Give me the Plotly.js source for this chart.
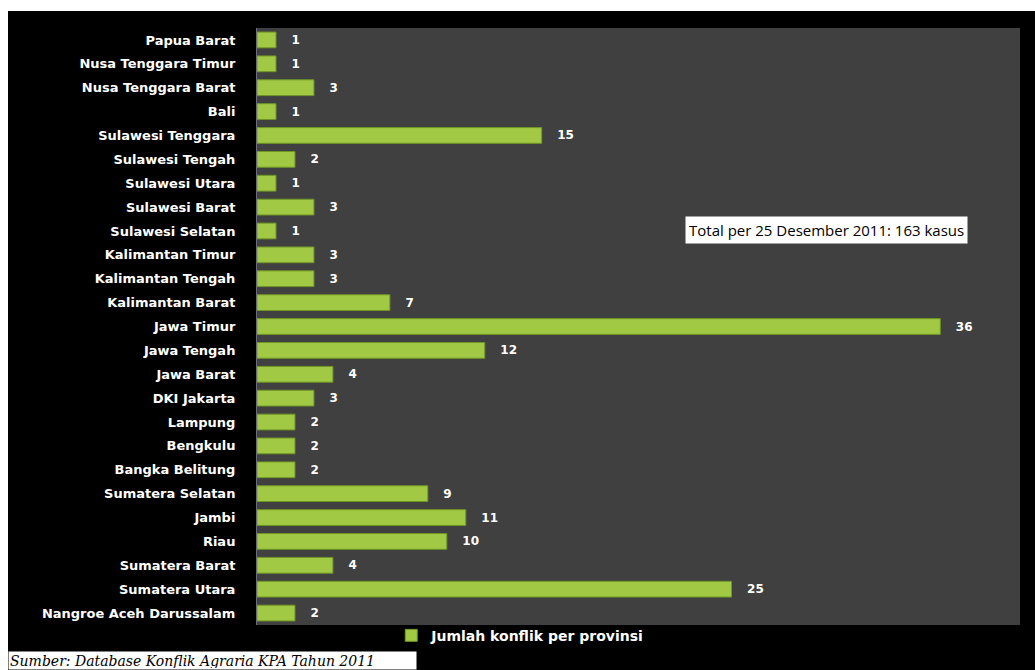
<!DOCTYPE html>
<html>
<head>
<meta charset="utf-8">
<script src="https://cdn.plot.ly/plotly-3.0.1.min.js"></script>
<style>
  html, body { margin: 0; padding: 0; background: #ffffff; width: 1035px; height: 670px; overflow: hidden; }
  #chart { position: absolute; left: 8px; top: 11px; width: 1027px; height: 659px; }
</style>
</head>
<body>
<div id="chart"></div>
<script>
const provinces = [
  "Papua Barat", "Nusa Tenggara Timur", "Nusa Tenggara Barat", "Bali",
  "Sulawesi Tenggara", "Sulawesi Tengah", "Sulawesi Utara", "Sulawesi Barat",
  "Sulawesi Selatan", "Kalimantan Timur", "Kalimantan Tengah", "Kalimantan Barat",
  "Jawa Timur", "Jawa Tengah", "Jawa Barat", "DKI Jakarta", "Lampung", "Bengkulu",
  "Bangka Belitung", "Sumatera Selatan", "Jambi", "Riau", "Sumatera Barat",
  "Sumatera Utara", "Nangroe Aceh Darussalam"
];
const conflicts = [1, 1, 3, 1, 15, 2, 1, 3, 1, 3, 3, 7, 36, 12, 4, 3, 2, 2, 2, 9, 11, 10, 4, 25, 2];
const seriesName = "Jumlah konflik per provinsi";
const totalNote = "Total per 25 Desember 2011: 163 kasus";
const sourceNote = "Sumber: Database Konflik Agraria KPA Tahun 2011";

const nb = "\u00a0\u00a0\u00a0";
const trace = {
  type: "bar",
  orientation: "h",
  y: provinces,
  x: conflicts,
  name: seriesName,
  text: conflicts.map(v => nb + v),
  textposition: "outside",
  cliponaxis: false,
  textfont: { family: "DejaVu Sans", size: 12, color: "#ffffff", weight: "bold" },
  marker: { color: "#a2c943", line: { color: "#6f9624", width: 1 } },
  hoverinfo: "x+y"
};

const layout = {
  width: 1027, height: 659,
  paper_bgcolor: "#000000",
  plot_bgcolor: "#404040",
  margin: { l: 249, r: 15, t: 17, b: 45 },
  bargap: 0.34,
  showlegend: true,
  legend: {
    orientation: "h", x: 0.345, xanchor: "center", y: -0.018, yanchor: "middle",
    font: { family: "DejaVu Sans", size: 14, color: "#ffffff", weight: "bold" },
    bgcolor: "rgba(0,0,0,0)"
  },
  xaxis: { range: [0, 40.2], visible: false, fixedrange: true },
  yaxis: {
    autorange: "reversed",
    showline: true, linecolor: "#6c6c80", linewidth: 1,
    ticks: "", ticklabelstandoff: 18,
    tickfont: { family: "DejaVu Sans", size: 13, color: "#ffffff", weight: "bold" },
    showgrid: false, fixedrange: true
  },
  annotations: [
    {
      xref: "paper", yref: "paper", x: 0.747, y: 0.662, xanchor: "center", yanchor: "middle",
      text: totalNote, showarrow: false, bgcolor: "#ffffff", borderpad: 3,
      font: { family: "Open Sans", size: 15, color: "#000000" }
    },
    {
      xref: "paper", yref: "paper", x: -0.3264, y: -0.0754, xanchor: "left", yanchor: "bottom",
      text: "<i>" + sourceNote + "</i>", showarrow: false, bgcolor: "#ffffff",
      width: 405, height: 15, align: "left", borderpad: 1,
      font: { family: "DejaVu Serif", size: 14, color: "#000000" }
    }
  ]
};

Plotly.newPlot("chart", [trace], layout, { displayModeBar: false, staticPlot: true });
</script>
</body>
</html>
